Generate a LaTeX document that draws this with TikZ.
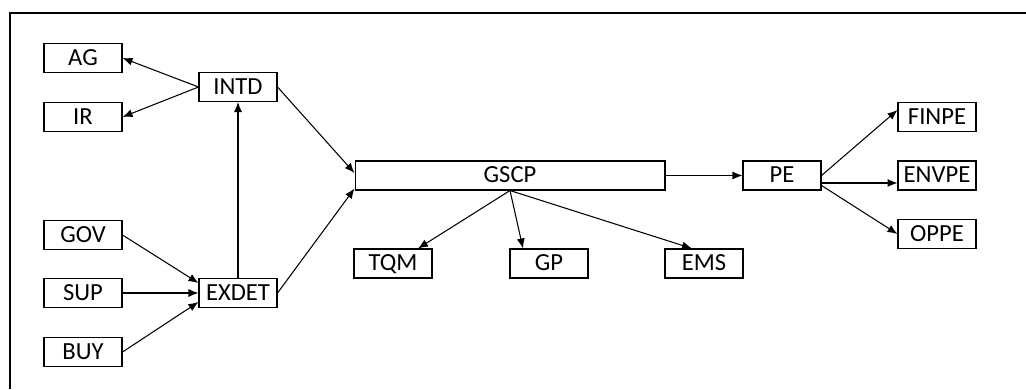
\documentclass[tikz,border=0pt]{standalone}
\usepackage{fontspec}
\setmainfont{Carlito}
\usetikzlibrary{arrows.meta}
\tikzset{
  box/.style={draw, line width=0.6pt, minimum width=1.56cm, minimum height=0.58cm,
    inner sep=0pt, text height=0.8em, text depth=0pt,
    font=\fontsize{14}{16}\selectfont},
  widebox/.style={box, minimum width=6.2cm},
  link/.style={->, line width=0.6pt}
}
\begin{document}
\begin{tikzpicture}[x=0.02cm,y=-0.02cm,>={Latex[length=2mm,width=1.6mm]}]
        \useasboundingbox (0,0) rectangle (1026,389);
        % outer frame
        \draw[line width=1.7pt] (10,389) -- (10,13) -- (1026,13);
        % left column
        \node[box] (AG) at (83,58) {AG};
        \node[box] (IR) at (83,117) {IR};
        \node[box] (GOV) at (83,235) {GOV};
        \node[box] (SUP) at (83,293) {SUP};
        \node[box] (BUY) at (83,352) {BUY};
        \node[box] (INTD) at (238,87) {INTD};
        \node[box] (EXDET) at (238,293) {EXDET};
        % middle
        \node[widebox] (GSCP) at (510,175.5) {GSCP};
        \node[box] (TQM) at (393,263.5) {TQM};
        \node[box] (GP) at (549,263.5) {GP};
        \node[box] (EMS) at (704,263.5) {EMS};
        % right
        \node[box] (PE) at (782,175.5) {PE};
        \node[box] (FINPE) at (937,117) {FINPE};
        \node[box] (ENVPE) at (937,175.5) {ENVPE};
        \node[box] (OPPE) at (937,234) {OPPE};
        % connectors
        \draw[link] (INTD.west) -- (AG.east);
        \draw[link] (INTD.west) -- (IR.east);
        \draw[link] (EXDET.north) -- (INTD.south);
        \draw[link] (GOV.east) -- ([yshift=0.2cm]EXDET.west);
        \draw[link] (SUP.east) -- (EXDET.west);
        \draw[link] (BUY.east) -- ([yshift=-0.18cm]EXDET.west);
        \draw[link] (INTD.east) -- ([yshift=0.05cm]GSCP.west);
        \draw[link] (EXDET.east) -- ([yshift=0.04cm]GSCP.south west);
        \draw[link] (GSCP.south) -- ([xshift=0.5cm]TQM.north);
        \draw[link] (GSCP.south) -- ([xshift=-0.52cm]GP.north);
        \draw[link] (GSCP.south) -- ([xshift=-0.24cm]EMS.north);
        \draw[link] (GSCP.east) -- (PE.west);
        \draw[link] (PE.east) -- ([yshift=0.14cm]FINPE.west);
        \draw[link] ([yshift=-0.15cm]PE.east) -- ([yshift=-0.15cm]ENVPE.west);
        \draw[link] ([yshift=-0.2cm]PE.east) -- (OPPE.west);
\end{tikzpicture}
\end{document}
